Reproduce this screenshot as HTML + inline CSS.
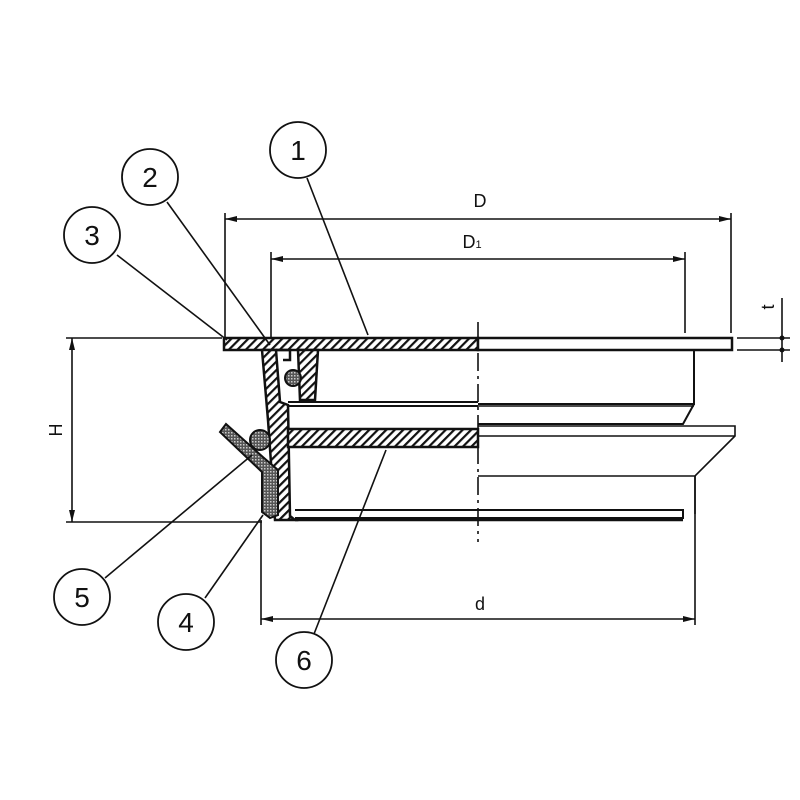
<!DOCTYPE html>
<html><head><meta charset="utf-8"><style>
html,body{margin:0;padding:0;background:#fff;width:800px;height:800px;overflow:hidden}
svg{display:block}
text{font-family:"Liberation Sans",sans-serif;fill:#111}
</style></head><body>
<svg width="800" height="800" viewBox="0 0 800 800" xmlns="http://www.w3.org/2000/svg">
<defs>
<pattern id="h" width="6" height="6" patternUnits="userSpaceOnUse" patternTransform="rotate(45)">
<rect width="6" height="6" fill="#fff"/><rect width="2.2" height="6" fill="#111"/></pattern>
<pattern id="d" width="3" height="3" patternUnits="userSpaceOnUse">
<rect width="3" height="3" fill="#555"/><rect width="1.5" height="1.5" fill="#ccc"/></pattern>
</defs>
<g stroke="#111" fill="none" stroke-width="1.6">
<!-- dimension D -->
<line x1="225" y1="213" x2="225" y2="337"/>
<line x1="731" y1="213" x2="731" y2="333"/>
<line x1="225" y1="219" x2="731" y2="219"/>
<line x1="271" y1="252" x2="271" y2="337"/>
<line x1="685" y1="252" x2="685" y2="333"/>
<line x1="271" y1="259" x2="685" y2="259"/>
<!-- H -->
<line x1="66" y1="338" x2="222" y2="338"/>
<line x1="66" y1="522" x2="262" y2="522"/>
<line x1="72" y1="338" x2="72" y2="522"/>
<!-- t -->
<line x1="737" y1="338" x2="790" y2="338"/>
<line x1="737" y1="350" x2="790" y2="350"/>
<line x1="782" y1="298" x2="782" y2="362"/>
<!-- d -->
<line x1="261" y1="520" x2="261" y2="625"/>
<line x1="695" y1="476" x2="695" y2="625"/>
<line x1="261" y1="619" x2="695" y2="619"/>
<!-- center line -->
<line x1="478" y1="322" x2="478" y2="542" stroke-dasharray="18,5,3,5"/>
</g>
<g fill="#111">
<polygon points="225,219 237,216 237,222"/><polygon points="731,219 719,216 719,222"/>
<polygon points="271,259 283,256 283,262"/><polygon points="685,259 673,256 673,262"/>
<polygon points="72,338 69,350 75,350"/><polygon points="72,522 69,510 75,510"/>
<polygon points="261,619 273,616 273,622"/><polygon points="695,619 683,616 683,622"/>
<circle cx="782" cy="338" r="2.5"/><circle cx="782" cy="350" r="2.5"/>
</g>
<!-- body -->
<g stroke="#111" stroke-width="2.5">
<rect x="224" y="338" width="254" height="12" fill="url(#h)"/>
<rect x="478" y="338" width="254" height="12" fill="#fff"/>
<polygon points="298,350 318,350 315,400 300,400" fill="url(#h)"/>
<polygon points="262,350 276,350 280,402 288,405 290,516 295,520 275,520 268,420" fill="url(#h)"/>
<rect x="288" y="429" width="190" height="18" fill="url(#h)"/>
<path d="M276 350 L290 350 L290 360 L283 360" fill="none"/>
</g>
<g stroke="#111" fill="none">
<path d="M288 402 H478 M288 406 H478" stroke-width="2"/>
<path d="M478 404 H694 V350 M694 404 L683 424 H478" stroke-width="2"/>
<path d="M478 406 H694" stroke-width="1.5"/>
<path d="M478 426 H735 V436 L695 476 H478 M478 436 H735" stroke-width="1.6"/>
<path d="M695 476 V514" stroke-width="1.6"/>
<path d="M295 510 H683 V518 H295" stroke-width="2"/>
<path d="M295 520 H683" stroke-width="2.5"/>
</g>
<!-- gaskets -->
<circle cx="293" cy="378" r="8" fill="url(#d)" stroke="#111" stroke-width="2"/>
<circle cx="260" cy="440" r="10" fill="url(#d)" stroke="#111" stroke-width="2"/>
<polygon points="220,432 226,424 264,458 278,470 278,515 270,518 262,512 262,472" fill="url(#d)" stroke="#111" stroke-width="2"/>
<!-- leaders -->
<g stroke="#111" stroke-width="1.6" fill="none">
<line x1="307" y1="178" x2="368" y2="335"/>
<line x1="167" y1="202" x2="270" y2="345"/>
<line x1="117" y1="255" x2="227" y2="340"/>
<line x1="105" y1="578" x2="252" y2="455"/>
<line x1="205" y1="598" x2="263" y2="515"/>
<line x1="314" y1="634" x2="386" y2="450"/>
</g>
<g stroke="#111" stroke-width="1.8" fill="#fff">
<circle cx="298" cy="150" r="28"/><circle cx="150" cy="177" r="28"/>
<circle cx="92" cy="235" r="28"/><circle cx="82" cy="597" r="28"/>
<circle cx="186" cy="622" r="28"/><circle cx="304" cy="660" r="28"/>
</g>
<g font-size="28" text-anchor="middle">
<text x="298" y="160">1</text><text x="150" y="187">2</text>
<text x="92" y="245">3</text><text x="82" y="607">5</text>
<text x="186" y="632">4</text><text x="304" y="670">6</text>
</g>
<g font-size="18" text-anchor="middle">
<text x="480" y="207">D</text>
<text x="472" y="248">D<tspan font-size="11">1</tspan></text>
<text x="480" y="610">d</text>
<text transform="translate(62,430) rotate(-90)">H</text>
<text transform="translate(774,307) rotate(-90)">t</text>
</g>
</svg>
</body></html>
